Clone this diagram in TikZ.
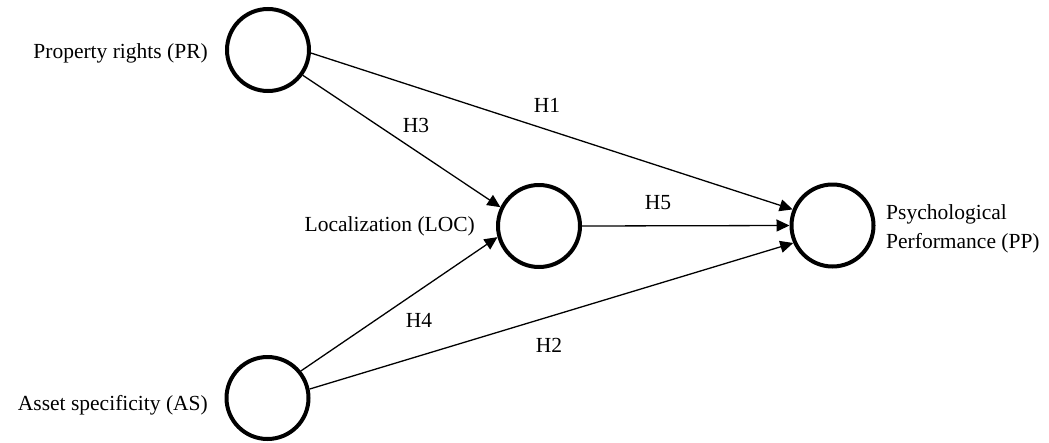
\documentclass[tikz,border=0pt]{standalone}
\usepackage{fontspec}
\setmainfont{Liberation Serif}
\usetikzlibrary{arrows.meta}
\tikzset{
  latent/.style={circle, draw=black, line width=4pt, minimum size=82pt, inner sep=0pt},
  lbl/.style={inner sep=0pt, font=\fontsize{21.5}{29}\selectfont},
  path/.style={line width=1.3pt, -{Triangle[length=13pt,width=12pt]}},
}
\begin{document}
\begin{tikzpicture}[x=1pt,y=-1pt]
\useasboundingbox (0,0) rectangle (1049,442);
\node[latent] (PR) at (268,50) {};
\node[latent] (LOC) at (539,226) {};
\node[latent] (PP) at (832.5,225.5) {};
\node[latent] (AS) at (267.5,398) {};

\node[lbl, anchor=base east] (tPR) at (208,58) {Property rights (PR)};
\node[lbl, anchor=base east] (tLOC) at (475,231) {Localization (LOC)};
\node[lbl, anchor=base east] (tAS) at (208,410) {Asset specificity (AS)};
\node[lbl, anchor=west, align=left] (tPP) at (886,229) {Psychological\\Performance (PP)};

\draw[path] (PR.-4) -- (PP.158.5);
\draw[path] (PR.-36) -- (LOC.154.5);
\draw[path] (AS.39) -- (LOC.-165);
\draw[path] (AS.12) -- (PP.-156);
\draw[path] (LOC.east) -- (PP.west);

\node[lbl] (h1) at (547,105) {H1};
\node[lbl] (h3) at (416,125) {H3};
\node[lbl] (h5) at (658,203) {H5};
\node[lbl] (h4) at (419,320) {H4};
\node[lbl] (h2) at (549,345) {H2};
\end{tikzpicture}
\end{document}
